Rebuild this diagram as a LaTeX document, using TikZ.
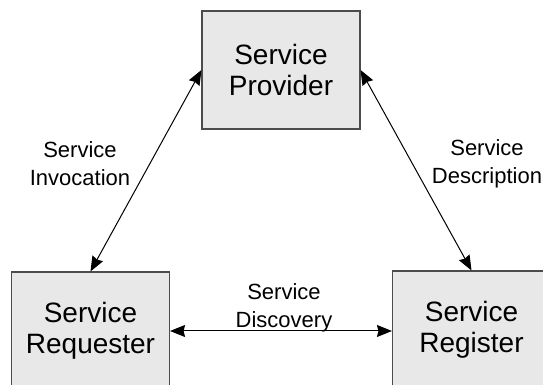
\documentclass[tikz,border=0pt]{standalone}
\usepackage{fontspec}
\setmainfont{Liberation Sans}
\usetikzlibrary{arrows.meta}
\begin{document}
\begin{tikzpicture}[x=1pt,y=1pt,
  svcbox/.style={draw=black!70, fill=black!9, line width=1.1pt, minimum width=158pt, minimum height=118pt,
    inner sep=0pt, align=center, font=\fontsize{28}{31}\selectfont},
  lbl/.style={align=center, inner sep=0pt, font=\fontsize{22}{28}\selectfont},
  conn/.style={line width=1pt, {Stealth[length=15pt,width=12pt,inset=1.5pt]}-{Stealth[length=15pt,width=12pt,inset=1.5pt]}}]
\useasboundingbox (0,0) rectangle (543,385);
\begin{scope}
\clip (0,0) rectangle (543,385);
\node[svcbox] (prov) at (281,315) {Service\\Provider};
\node[svcbox] (req) at (90.5,54) {Service\\Requester};
\node[svcbox] (reg) at (471.5,55) {Service\\Register};
\end{scope}
\draw[conn] (req.north) -- (prov.west);
\draw[conn] (reg.north) -- (prov.east);
\draw[conn] (req.east) -- (reg.west |- req.east);
\node[lbl] (inv) at (80,221) {Service\\Invocation};
\node[lbl] (desc) at (487,221) {Service\\Description};
\node[lbl] (disc) at (284,77) {Service\\Discovery};
\end{tikzpicture}
\end{document}
